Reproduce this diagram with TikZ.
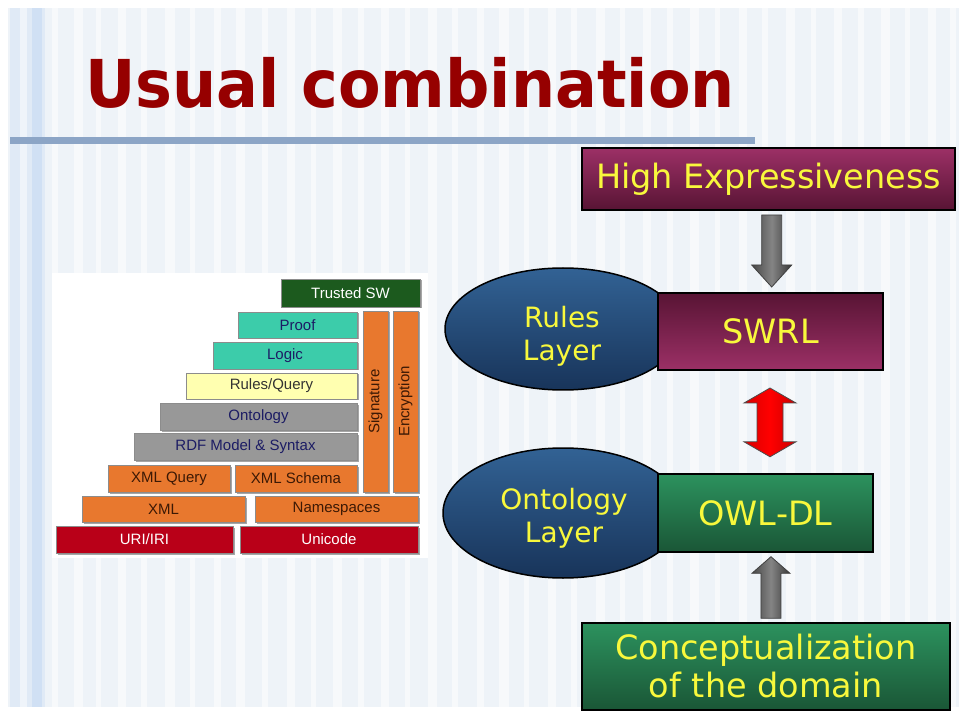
\documentclass[tikz,border=0pt]{standalone}
\usepackage{fontspec}
\setmainfont{DejaVu Sans}
\newfontfamily\arialf{Liberation Sans}
\usetikzlibrary{shapes.geometric,shadows,calc}

% palette
\definecolor{slidebg}{RGB}{238,243,248}
\definecolor{stripeblue}{RGB}{224,234,246}
\definecolor{stripedeep}{RGB}{208,224,244}
\definecolor{titlered}{RGB}{150,0,0}
\definecolor{ruleblue}{RGB}{140,165,198}
\definecolor{txtyellow}{RGB}{248,248,60}
\definecolor{swgreen}{RGB}{28,90,30}
\definecolor{teal}{RGB}{60,204,170}
\definecolor{paleyellow}{RGB}{255,255,176}
\definecolor{midgray}{RGB}{152,152,152}
\definecolor{layerorange}{RGB}{232,120,46}
\definecolor{layerred}{RGB}{185,0,24}
\definecolor{navytext}{RGB}{28,28,100}
\definecolor{browntext}{RGB}{60,25,5}
\definecolor{plumtop}{RGB}{156,48,102}
\definecolor{plumbot}{RGB}{88,20,52}
\definecolor{greentop}{RGB}{44,146,94}
\definecolor{greenbot}{RGB}{26,86,54}
\definecolor{bluetop}{RGB}{50,98,148}
\definecolor{bluebot}{RGB}{24,52,90}

\tikzset{
  lbox/.style={draw=black!45, line width=0.5pt, inner sep=0pt, anchor=center,
    font=\arialf\fontsize{15}{15}\selectfont,
    drop shadow={shadow xshift=1.5pt, shadow yshift=-1.5pt, fill=black, opacity=0.35}},
  bigbox/.style={draw=black, line width=1.5pt, inner sep=0pt, anchor=center,
    text=txtyellow, font=\fontsize{33.5}{38}\selectfont, align=center},
  plum/.style={bigbox, top color=plumtop, bottom color=plumbot},
  plumrev/.style={bigbox, top color=plumbot, bottom color=plumtop},
  greenbox/.style={bigbox, top color=greentop, bottom color=greenbot},
  layer/.style={ellipse, draw=black, line width=1.5pt, inner sep=0pt,
    top color=bluetop, bottom color=bluebot},
  layertext/.style={text=txtyellow, font=\fontsize{28}{33}\selectfont,
    align=center, inner sep=0pt},
  grayarrow/.style={draw=black!75, line width=0.8pt, line join=miter,
    left color=black!72, right color=black!78, middle color=black!48},
  redarrow/.style={draw=black!70, line width=0.8pt, line join=miter,
    left color=red!85!black, right color=red!80!black, middle color=red}
}

\begin{document}
\begin{tikzpicture}[x=1pt, y=-1pt]
\useasboundingbox (0,0) rectangle (959,711);
\fill[white] (0,0) rectangle (959,711);

% slide background with faint vertical stripes
\fill[slidebg] (8,8) rectangle (959,707);
\foreach \sx/\sw in {52/6,74/9,96/5,118/8,141/6,165/10,190/5,214/7,236/9,262/6,
  287/8,311/5,333/9,358/6,381/8,405/5,428/9,452/6,477/7,499/10,524/5,548/8,
  571/6,596/9,620/5,643/8,667/6,690/9,715/5,739/8,762/6,786/9,811/5,834/8,
  858/6,881/9,905/5,928/8,950/6}
  \fill[white, opacity=0.55] (\sx,8) rectangle ++(\sw,699);
\fill[stripeblue] (10,8) rectangle (45,707);
\fill[stripedeep] (32,8) rectangle (42,707);
\fill[white, opacity=0.5] (20,8) rectangle (27,707);

% title and rule
\node[anchor=base west, inner sep=0pt, text=titlered,
  font=\fontsize{66}{66}\selectfont\bfseries] (title) at (85,108)
  {\scalebox{0.94}[1]{Usual combination}};
\fill[ruleblue] (10,137) rectangle (755,144);

% semantic web layer cake
\fill[white] (52,273) rectangle (428,558);
\node[lbox, fill=swgreen, text=white, minimum width=139pt, minimum height=28pt] (tsw) at (350.5,293) {Trusted SW};
\node[lbox, fill=teal, text=navytext, minimum width=119pt, minimum height=26pt] (proof) at (297.5,325) {Proof};
\node[lbox, fill=teal, text=navytext, minimum width=144pt, minimum height=27pt] (logic) at (285,355.5) {Logic};
\node[lbox, fill=paleyellow, text=black!80, minimum width=171pt, minimum height=26pt] (rq) at (271.5,386) {Rules/Query};
\node[lbox, fill=midgray, text=navytext, minimum width=197pt, minimum height=27pt] (onto) at (258.5,416.5) {Ontology};
\node[lbox, fill=midgray, text=navytext, minimum width=223pt, minimum height=27pt] (rdf) at (245.5,446.5) {RDF Model \& Syntax};
\node[lbox, fill=layerorange, text=browntext, minimum width=122pt, minimum height=27pt] (xq) at (169,478.5) {XML Query};
\node[lbox, fill=layerorange, text=browntext, minimum width=122pt, minimum height=27pt] (xs) at (296,478.5) {XML Schema};
\node[lbox, fill=layerorange, text=browntext, rotate=90, minimum width=181pt, minimum height=25pt] (sig) at (375.5,401.5) {Signature};
\node[lbox, fill=layerorange, text=browntext, rotate=90, minimum width=181pt, minimum height=25pt] (enc) at (405.5,401.5) {Encryption};
\node[lbox, fill=layerorange, text=browntext, minimum width=163pt, minimum height=26pt] (xml) at (163.5,509) {XML};
\node[lbox, fill=layerorange, text=browntext, minimum width=163pt, minimum height=26pt] (ns) at (336.5,509) {Namespaces};
\node[lbox, fill=layerred, text=white, minimum width=177pt, minimum height=27pt] (uri) at (144.5,539.5) {URI/IRI};
\node[lbox, fill=layerred, text=white, minimum width=178pt, minimum height=27pt] (uni) at (329,539.5) {Unicode};

% rules and ontology layers
\node[layer, minimum width=236pt, minimum height=122pt] (rl) at (563,329) {};
\node[layer, minimum width=240pt, minimum height=130pt] (ol) at (563,513) {};
\node[layertext] (rlt) at ($(rl.center)+(-1,7)$) {Rules\\Layer};
\node[layertext] (olt) at ($(ol.center)+(1,5)$) {Ontology\\Layer};

\node[plum, minimum width=373pt, minimum height=62pt] (he) at (768.5,179) {High Expressiveness};
\node[plumrev, minimum width=225pt, minimum height=77pt] (swrl) at (770.5,331.5) {\raisebox{-3pt}{SWRL}};
\node[greenbox, minimum width=215pt, minimum height=78pt] (owl) at (765.5,513) {OWL-DL};
\node[greenbox, minimum width=368pt, minimum height=87pt] (conc) at (766,666.5) {Conceptualization\\of the domain};

% block arrows between the boxes
\coordinate (downc) at ($(he.south)!0.5!(swrl.north)+(2.2,-0.5)$);
\coordinate (bothc) at ($(swrl.south)!0.5!(owl.north)+(2,0.4)$);
\coordinate (upc)   at ($(owl.south)!0.5!(conc.north)+(5.2,0)$);

\draw[grayarrow, shift={(downc)}]
  (-10,-36) -- (10,-36) -- (10,14) -- (20,14) -- (0,36) -- (-20,14) -- (-10,14) -- cycle;
\draw[redarrow, shift={(bothc)}]
  (0,-34.4) -- (26,-19.4) -- (13,-19.4) -- (13,19.4) -- (26,19.4) -- (0,34.4)
  -- (-26,19.4) -- (-13,19.4) -- (-13,-19.4) -- (-26,-19.4) -- cycle;
\draw[grayarrow, shift={(upc)}]
  (0,-30.8) -- (19,-14.2) -- (10,-14.2) -- (10,30.8) -- (-10,30.8) -- (-10,-14.2) -- (-19,-14.2) -- cycle;
\end{tikzpicture}
\end{document}
